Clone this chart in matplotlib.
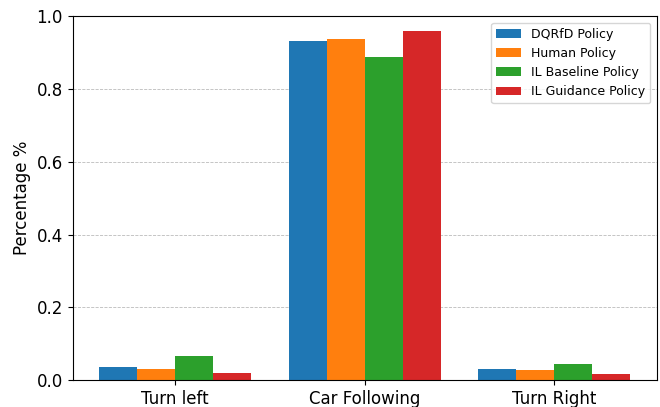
import numpy as np
import matplotlib.pyplot as plt

# Share of each manoeuvre chosen by the different policies
categories = ['Turn left', 'Car Following', 'Turn Right']
dqrfd = [0.035, 0.931, 0.031]
human = [0.030, 0.938, 0.027]
il_baseline = [0.067, 0.887, 0.043]
il_guidance = [0.019, 0.960, 0.017]

series = [
    ('DQRfD Policy', dqrfd, '#1f77b4'),
    ('Human Policy', human, '#ff7f0e'),
    ('IL Baseline Policy', il_baseline, '#2ca02c'),
    ('IL Guidance Policy', il_guidance, '#d62728'),
]

fig, ax = plt.subplots(figsize=(6.6, 4.07), dpi=100)
x = np.arange(len(categories))
width = 0.2
for i, (label, vals, color) in enumerate(series):
    ax.bar(x + (i - 1.5) * width, vals, width, label=label, color=color)

ax.set_xticks(x)
ax.set_xticklabels(categories, fontsize=12)
ax.tick_params(axis='y', labelsize=12)
ax.set_ylabel('Percentage %', fontsize=12)
ax.set_ylim(0, 1.0)
ax.yaxis.grid(True, linestyle='--', linewidth=0.6, color='#bbbbbb')
ax.set_axisbelow(True)
ax.legend(loc='upper right', fontsize=9)

fig.subplots_adjust(left=0.11, right=0.995, top=0.96, bottom=0.066)
fig.savefig('out.png')
